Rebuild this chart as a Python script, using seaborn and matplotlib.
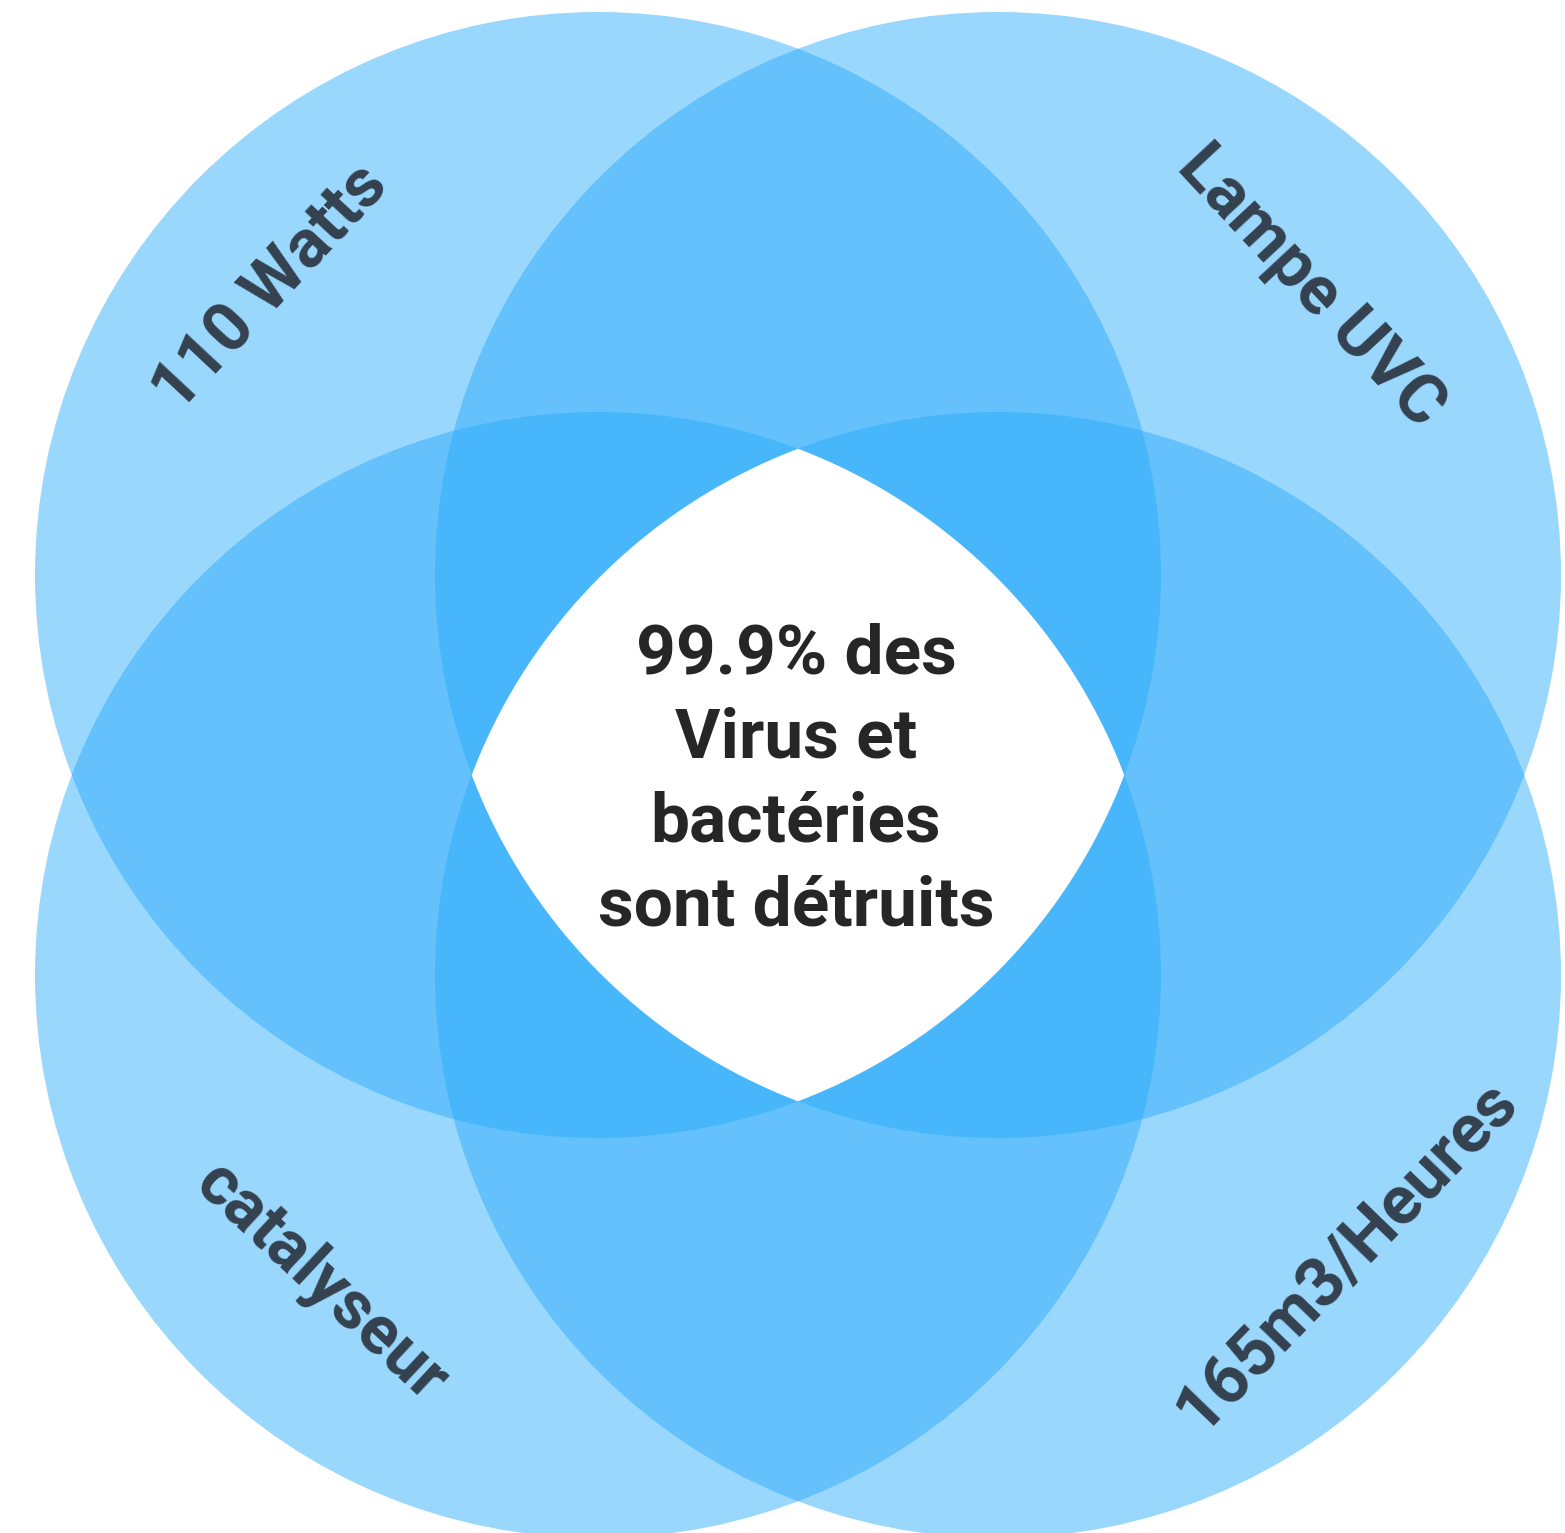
import numpy as np
import matplotlib
matplotlib.use("Agg")
import matplotlib.pyplot as plt
from matplotlib.patches import Circle, Polygon
from matplotlib import font_manager
import seaborn as sns

# ---- data ----
labels = ["110 Watts", "Lampe UVC", "catalyseur", "165m3/Heures"]
center_x = [598, 998, 598, 998]
center_y = [575, 575, 975, 975]
radius = 563
label_x = [271, 1311, 321, 1347]
label_y = [288, 287, 1282, 1256]
label_rot = [47, -47, -43, 46]
center_lines = ["99.9% des", "Virus et", "bactéries", "sont détruits"]

W, H = 1565, 1533
sns.set_theme(style="white")

names = {f.name for f in font_manager.fontManager.ttflist}
narrow = "Liberation Sans Narrow" if "Liberation Sans Narrow" in names else "Roboto"
plt.rcParams['font.family'] = ['Roboto', 'DejaVu Sans']

fig = plt.figure(figsize=(W / 100, H / 100), dpi=100)
ax = fig.add_axes([0, 0, 1, 1])
ax.set_xlim(0, W)
ax.set_ylim(H, 0)
ax.set_aspect("equal")
ax.axis("off")

blue = (40 / 255, 170 / 255, 251 / 255)
for cx, cy in zip(center_x, center_y):
    ax.add_patch(Circle((cx, cy), radius, facecolor=blue, alpha=0.47,
                        edgecolor="none", zorder=1))

# white centre: intersection of all four circles
pts = []
t = np.linspace(0, 2 * np.pi, 4000)
cxs = np.array(center_x, float)
cys = np.array(center_y, float)
for cx, cy in zip(cxs, cys):
    px = cx + radius * np.cos(t)
    py = cy + radius * np.sin(t)
    inside = np.all((px[:, None] - cxs[None]) ** 2 + (py[:, None] - cys[None]) ** 2
                    <= radius ** 2 + 1e-6, axis=1)
    pts.append(np.column_stack([px[inside], py[inside]]))
pts = np.vstack(pts)
mx, my = cxs.mean(), cys.mean()
order = np.argsort(np.arctan2(pts[:, 1] - my, pts[:, 0] - mx))
ax.add_patch(Polygon(pts[order], closed=True, facecolor="white",
                     edgecolor="none", zorder=2))

for lab, x, y, r in zip(labels, label_x, label_y, label_rot):
    ax.text(x, y, lab, rotation=r, rotation_mode="anchor", ha="center",
            va="center", fontsize=49, fontweight="bold", color="#34414f",
            zorder=3)

base0, step = 673, 84
for i, line in enumerate(center_lines):
    ax.text(796, base0 + i * step, line, ha="center", va="baseline",
            fontsize=50, fontweight="bold", color="#262626",
            family=[narrow, "DejaVu Sans"], zorder=3)

fig.savefig("out.png", dpi=100, facecolor="white")
